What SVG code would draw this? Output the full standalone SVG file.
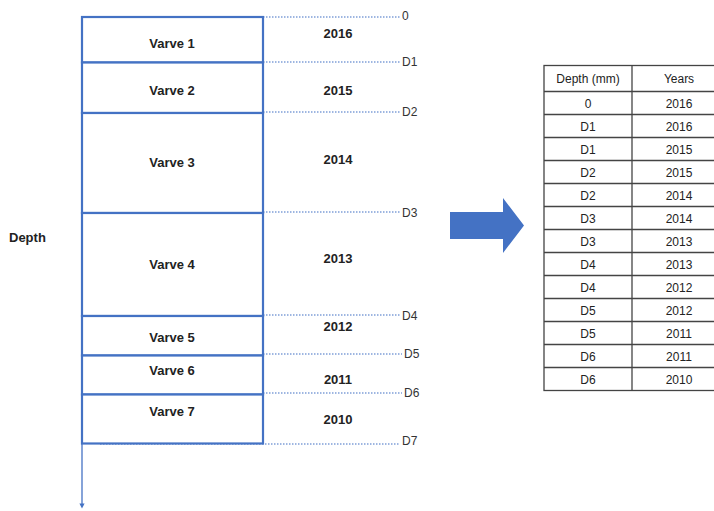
<svg xmlns="http://www.w3.org/2000/svg" width="714" height="511" viewBox="0 0 714 511">
<style>
.box{fill:#fff;stroke:#4472C4;stroke-width:2.2}
.dot{stroke:#7F9FD8;stroke-width:1.6;stroke-dasharray:1.5 1.5;fill:none}
.vt{font-family:"Liberation Sans",Arial,sans-serif;font-weight:bold;font-size:13px;fill:#222;text-anchor:middle}
.yr{font-family:"Liberation Sans",Arial,sans-serif;font-weight:bold;font-size:13px;fill:#222;text-anchor:middle}
.dl{font-family:"Liberation Sans",Arial,sans-serif;font-size:12px;fill:#333}
.tt{font-family:"Liberation Sans",Arial,sans-serif;font-size:12px;fill:#222;text-anchor:middle}
.tl{stroke:#444;stroke-width:1.3;fill:none}
</style>
<defs>
<marker id="ah" viewBox="0 0 10 10" refX="5" refY="5" markerWidth="4" markerHeight="4" orient="auto">
<path d="M0,0 L10,5 L0,10 z" fill="#4472C4"/>
</marker>
</defs>
<rect width="714" height="511" fill="#fff"/>

<g id="connectors">
<line class="dot" x1="98" y1="17" x2="400" y2="17"/>
<line class="dot" x1="263" y1="62" x2="400" y2="62"/>
<line class="dot" x1="263" y1="112" x2="400" y2="112"/>
<line class="dot" x1="263" y1="212" x2="400" y2="212"/>
<line class="dot" x1="263" y1="315" x2="400" y2="315"/>
<line class="dot" x1="263" y1="354" x2="402" y2="354"/>
<line class="dot" x1="263" y1="393" x2="402" y2="393"/>
<line class="dot" x1="100" y1="444" x2="400" y2="444"/>
<line x1="82" y1="443" x2="82" y2="506" stroke="#4472C4" stroke-width="1.3" marker-end="url(#ah)"/>
<path d="M450,212 H503 V198 L524,225.5 L503,253 V239 H450 Z" fill="#4472C4"/>
</g>

<g id="varve1"><rect class="box" x="82" y="17" width="181" height="45.5"/><text class="vt" x="172" y="48">Varve 1</text></g>
<g id="varve2"><rect class="box" x="82" y="62.5" width="181" height="50.5"/><text class="vt" x="172" y="95">Varve 2</text></g>
<g id="varve3"><rect class="box" x="82" y="113" width="181" height="100"/><text class="vt" x="172" y="167">Varve 3</text></g>
<g id="varve4"><rect class="box" x="82" y="213" width="181" height="103"/><text class="vt" x="172" y="269">Varve 4</text></g>
<g id="varve5"><rect class="box" x="82" y="316" width="181" height="39.5"/><text class="vt" x="172" y="342">Varve 5</text></g>
<g id="varve6"><rect class="box" x="82" y="355.5" width="181" height="39"/><text class="vt" x="172" y="375">Varve 6</text></g>
<g id="varve7"><rect class="box" x="82" y="394.5" width="181" height="49"/><text class="vt" x="172" y="416">Varve 7</text></g>

<g id="years">
<text class="yr" x="338" y="38">2016</text>
<text class="yr" x="338" y="95">2015</text>
<text class="yr" x="338" y="164">2014</text>
<text class="yr" x="338" y="263">2013</text>
<text class="yr" x="338" y="331">2012</text>
<text class="yr" x="338" y="384">2011</text>
<text class="yr" x="338" y="424">2010</text>
</g>

<g id="depth-labels">
<text class="dl" x="402" y="20">0</text>
<text class="dl" x="402" y="66">D1</text>
<text class="dl" x="402" y="116">D2</text>
<text class="dl" x="402" y="217">D3</text>
<text class="dl" x="402" y="320">D4</text>
<text class="dl" x="404" y="358">D5</text>
<text class="dl" x="404" y="397">D6</text>
<text class="dl" x="402" y="445">D7</text>
</g>

<g id="depth-axis-label">
<text x="9" y="242" font-family="'Liberation Sans',Arial,sans-serif" font-weight="bold" font-size="13" fill="#222">Depth</text>
</g>

<g id="table">
<rect class="tl" x="544" y="65.5" width="190" height="325"/>
<line class="tl" x1="632" y1="65.5" x2="632" y2="390.5"/>
<path class="tl" d="M544,91.5H734 M544,114.5H734 M544,137.5H734 M544,160.5H734 M544,183.5H734 M544,206.5H734 M544,229.5H734 M544,252.5H734 M544,275.5H734 M544,298.5H734 M544,321.5H734 M544,344.5H734 M544,367.5H734"/>
<text class="tt" x="588" y="83">Depth (mm)</text><text class="tt" x="679" y="83">Years</text>
<text class="tt" x="588" y="107.5">0</text><text class="tt" x="679" y="107.5">2016</text>
<text class="tt" x="588" y="130.5">D1</text><text class="tt" x="679" y="130.5">2016</text>
<text class="tt" x="588" y="153.5">D1</text><text class="tt" x="679" y="153.5">2015</text>
<text class="tt" x="588" y="176.5">D2</text><text class="tt" x="679" y="176.5">2015</text>
<text class="tt" x="588" y="199.5">D2</text><text class="tt" x="679" y="199.5">2014</text>
<text class="tt" x="588" y="222.5">D3</text><text class="tt" x="679" y="222.5">2014</text>
<text class="tt" x="588" y="245.5">D3</text><text class="tt" x="679" y="245.5">2013</text>
<text class="tt" x="588" y="268.5">D4</text><text class="tt" x="679" y="268.5">2013</text>
<text class="tt" x="588" y="291.5">D4</text><text class="tt" x="679" y="291.5">2012</text>
<text class="tt" x="588" y="314.5">D5</text><text class="tt" x="679" y="314.5">2012</text>
<text class="tt" x="588" y="337.5">D5</text><text class="tt" x="679" y="337.5">2011</text>
<text class="tt" x="588" y="360.5">D6</text><text class="tt" x="679" y="360.5">2011</text>
<text class="tt" x="588" y="383.5">D6</text><text class="tt" x="679" y="383.5">2010</text>
</g>
</svg>
